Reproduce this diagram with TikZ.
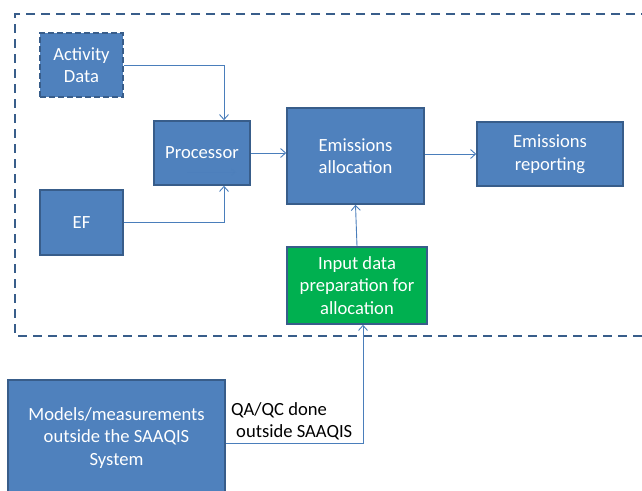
\documentclass[tikz,border=0pt]{standalone}
\usepackage{fontspec}
\setmainfont{Carlito}
\usetikzlibrary{arrows.meta}
\definecolor{boxfill}{HTML}{4F81BD}
\definecolor{boxline}{HTML}{385D8A}
\definecolor{greenfill}{HTML}{00B050}
\definecolor{conn}{HTML}{4A7EBB}
\begin{document}
\begin{tikzpicture}[x=1pt,y=-1pt,
  box/.style={draw=boxline,line width=1.6pt,fill=boxfill,text=white,align=center,inner sep=0pt,font=\fontsize{18.6}{22.5}\selectfont},
  conline/.style={draw=conn,line width=0.9pt,-{Straight Barb[length=5pt,width=9pt]}},
  frame/.style={draw=boxline,line width=1.8pt,dash pattern=on 9pt off 6pt}]
\useasboundingbox (0,0) rectangle (642,490);
\begin{scope}
\clip (0,0) rectangle (642,490);
% frame
\draw[frame] (650,14) -- (15,14) -- (15,336) -- (650,336);
% boxes
\node[box,dash pattern=on 6pt off 3pt,minimum width=83pt,minimum height=64pt] (ad) at (81.5,65) {Activity\\Data};
\node[box,minimum width=96pt,minimum height=64pt] (proc) at (202,153) {Processor};
\node[box,minimum width=83pt,minimum height=65pt] (ef) at (81.5,222.5) {EF};
\node[box,minimum width=137pt,minimum height=96pt] (ea) at (355.5,156) {Emissions\\allocation};
\node[box,minimum width=146pt,minimum height=64pt] (er) at (550,154) {Emissions\\reporting};
\node[box,fill=greenfill,minimum width=140pt,minimum height=77pt] (inp) at (357,285.5) {Input data\\preparation for\\allocation};
\node[box,minimum width=217pt,minimum height=116pt] (mod) at (116.5,438) {Models/measurements\\outside the SAAQIS\\System};
% connectors
\coordinate (c1) at (224,65);
\coordinate (c2) at (224,222.5);
\coordinate (c3) at (363,443);
\draw[conline] (ad.east) -- (c1) -- (c1 |- proc.north);
\draw[conline] (ef.east) -- (c2) -- (c2 |- proc.south);
\draw[conline] (proc.east) -- (proc.east -| ea.west);
\draw[conline] (ea.east |- er.west) -- (er.west);
\draw[conline] (inp.north) -- (ea.south);
\draw[conline] (mod.east |- c3) -- (c3) -- (c3 |- inp.south);
% faint stray arrow inside processor
\coordinate (s1) at (187,172);
\coordinate (s2) at (236,172);
\draw[draw=conn,opacity=0.35,line width=0.8pt,-{Straight Barb[length=4pt,width=6pt]}] (s1) -- (s2);
% label
\node[anchor=west,align=left,font=\fontsize{18.6}{22.5}\selectfont,inner sep=0pt] (qa) at (231,421.5) {QA/QC done\\\hspace*{5pt}outside SAAQIS};
\end{scope}
\end{tikzpicture}
\end{document}
